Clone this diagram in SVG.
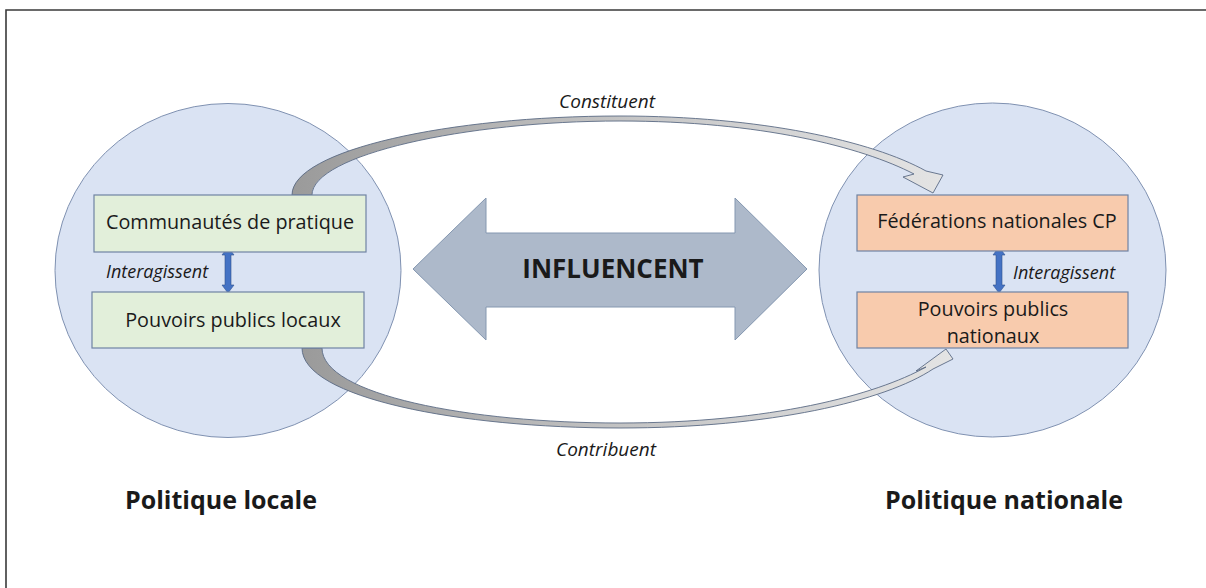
<svg xmlns="http://www.w3.org/2000/svg" width="1206" height="588" viewBox="0 0 1206 588">
<style>
.bg{fill:#ffffff}
.frame{stroke:#3a3a3a;stroke-width:1.6;fill:none}
.circle{fill:#dae3f3;stroke:#7f91b1;stroke-width:1}
.green{fill:#e2efda;stroke:#7083a3;stroke-width:1.2}
.peach{fill:#f8cbad;stroke:#7083a3;stroke-width:1.2}
.blue{fill:#4472c4;stroke:#2f528f;stroke-width:0.6}
.big{fill:#adb9ca;stroke:#8497b0;stroke-width:1}
.curve{stroke:#5b6b85;stroke-width:0.9}
.t{font-family:"Open Sans","Liberation Sans",sans-serif;fill:#1a1a1a}
.box{font-size:19.8px}
.it{font-style:italic;font-size:18px}
.lbl{font-style:italic;font-size:19px}
.bold{font-weight:bold}
</style>
<defs>
<linearGradient id="gTop" gradientUnits="userSpaceOnUse" x1="290" y1="0" x2="945" y2="0">
<stop offset="0" stop-color="#9a9a9a"/>
<stop offset="0.5" stop-color="#c4c4c4"/>
<stop offset="1" stop-color="#e4e4e4"/>
</linearGradient>
<linearGradient id="gBot" gradientUnits="userSpaceOnUse" x1="300" y1="0" x2="955" y2="0">
<stop offset="0" stop-color="#9a9a9a"/>
<stop offset="0.5" stop-color="#c4c4c4"/>
<stop offset="1" stop-color="#e4e4e4"/>
</linearGradient>
</defs>
<rect class="bg" x="0" y="0" width="1206" height="588"/>
<path class="frame" d="M6,588 L6,10 L1206,10"/>

<g id="circle-local">
<ellipse class="circle" cx="228" cy="270.5" rx="173" ry="167"/>
</g>
<g id="circle-national">
<ellipse class="circle" cx="992.5" cy="270" rx="173.5" ry="167"/>
</g>

<g id="connectors">
<path id="arrow-constituent" class="curve" fill="url(#gTop)" d="M292,195 C292,150 450,116 620,116 C760,116 872,141 926,171 L943,175 L933,193 L903,177 L914,174 C862,147 760,121 620,121 C465,121 312,155 312,195 Z"/>
<path id="arrow-contribuent" class="curve" fill="url(#gBot)" d="M302,348 C302,398 460,428 620,428 C770,428 885,401 933,369 L953,359 L946,349 L916,371 L926,367 C876,395 770,423 620,423 C470,423 322,395 322,348 Z"/>
<path id="arrow-local" class="blue" d="M228,247 L234,255 L231,255 L231,285 L234,285 L228,293 L222,285 L225,285 L225,255 L222,255 Z"/>
<path id="arrow-national" class="blue" d="M999,247 L1005,255 L1002,255 L1002,285 L1005,285 L999,293 L993,285 L996,285 L996,255 L993,255 Z"/>
</g>

<g id="label-constituent"><text class="t lbl" x="607" y="108" text-anchor="middle">Constituent</text></g>
<g id="label-contribuent"><text class="t lbl" x="606" y="456" text-anchor="middle">Contribuent</text></g>

<g id="node-communautes">
<rect class="green" x="94" y="195" width="272" height="57"/>
<text class="t box" x="230" y="229" text-anchor="middle">Communautés de pratique</text>
</g>
<g id="node-pouvoirs-locaux">
<rect class="green" x="92" y="292" width="272" height="56"/>
<text class="t box" x="233" y="327" text-anchor="middle">Pouvoirs publics locaux</text>
</g>
<g id="label-interagissent-local"><text class="t it" x="106" y="278">Interagissent</text></g>

<g id="node-federations">
<rect class="peach" x="857" y="195" width="271" height="56"/>
<text class="t box" x="997" y="228" text-anchor="middle">Fédérations nationales CP</text>
</g>
<g id="node-pouvoirs-nationaux">
<rect class="peach" x="857" y="292" width="271" height="56"/>
<text class="t box" x="993" y="316" text-anchor="middle">Pouvoirs publics</text>
<text class="t box" x="993" y="343" text-anchor="middle">nationaux</text>
</g>
<g id="label-interagissent-national"><text class="t it" x="1013" y="279">Interagissent</text></g>

<g id="node-influencent">
<path class="big" d="M413,269 L486,198 L486,233 L735,233 L735,198 L807,269 L735,340 L735,307 L486,307 L486,340 Z"/>
<text class="t bold" x="613" y="278" text-anchor="middle" font-size="26">INFLUENCENT</text>
</g>

<g id="title-local"><text class="t bold" x="221" y="509" text-anchor="middle" font-size="25">Politique locale</text></g>
<g id="title-national"><text class="t bold" x="1004" y="509" text-anchor="middle" font-size="25">Politique nationale</text></g>
</svg>
